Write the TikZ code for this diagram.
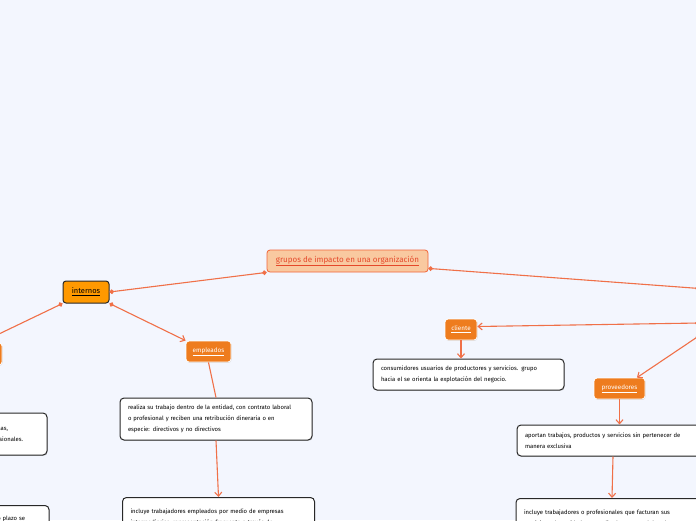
\documentclass[tikz,border=0pt]{standalone}
\usepackage{fontspec}
\setmainfont{Fira Sans}
\usetikzlibrary{arrows.meta,shadows}
\definecolor{bg}{RGB}{243,246,254}
\definecolor{lineor}{RGB}{240,112,72}
\definecolor{rootfill}{RGB}{249,201,160}
\definecolor{rootline}{RGB}{242,100,56}
\definecolor{roottext}{RGB}{229,72,42}
\definecolor{mainfill}{RGB}{255,153,0}
\definecolor{subfill}{RGB}{238,124,30}
\definecolor{darkline}{RGB}{40,40,40}
\tikzset{
  rootbox/.style={draw=rootline, fill=rootfill, rounded corners=3pt, line width=0.8pt,
    minimum width=161pt, minimum height=22pt, inner sep=0pt, text=roottext,
    font=\fontsize{8}{9}\selectfont},
  mainbox/.style={draw=darkline, fill=mainfill, rounded corners=3pt, line width=1pt,
    minimum width=46pt, minimum height=22pt, inner sep=0pt, text=black,
    font=\fontsize{7.5}{9}\selectfont},
  subbox/.style={draw=white, fill=subfill, rounded corners=3pt, line width=0.8pt,
    minimum height=21pt, inner sep=0pt, text=white,
    drop shadow={shadow xshift=0.5pt, shadow yshift=-0.8pt, opacity=0.25},
    font=\fontsize{6.3}{8}\selectfont},
  descbox/.style={draw=darkline, fill=white, rounded corners=4pt, line width=1pt,
    text width=176pt, inner xsep=8pt, align=left,
    drop shadow={shadow xshift=0.6pt, shadow yshift=-0.9pt, opacity=0.3},
    font=\fontsize{5.9}{11}\selectfont},
  conn/.style={draw=lineor, line width=1.1pt},
  dotdot/.style={conn, {Circle[length=4.5pt]}-{Circle[length=4.5pt]}},
  dotarrow/.style={conn, {Circle[length=4.5pt]}-{Straight Barb[length=4pt,width=7pt]}},
  plainarrow/.style={conn, -{Straight Barb[length=4pt,width=7pt]}},
  plainline/.style={conn},
}
\begin{document}
\begin{tikzpicture}[x=1pt,y=-1pt]
\useasboundingbox (0,0) rectangle (696,520);
\fill[bg] (0,0) rectangle (696,520);
\clip (0,0) rectangle (696,520);

% nodes
\node[rootbox] (root) at (347.5,261) {\underline{grupos de impacto en una organización}};
\node[mainbox] (internos) at (86,292) {\underline{internos}};
\node[mainbox, minimum width=90pt, minimum height=46pt] (externos) at (745,312) {};
\node[subbox, minimum width=42pt, minimum height=22pt] (socios) at (-19,354) {};
\node[subbox, minimum width=45pt] (empleados) at (208.5,351.5) {\underline{empleados}};
\node[subbox, minimum width=32pt] (cliente) at (461,329.5) {\underline{cliente}};
\node[subbox, minimum width=51pt] (proveedores) at (619.5,388.5) {\underline{proveedores}};

\node[descbox, minimum height=42pt] (t1) at (216,419)
  {realiza su trabajo dentro de la entidad, con contrato laboral\\
   o profesional y reciben una retribución dineraria o en\\
   especie: directivos y no directivos};
\node[descbox, anchor=north, inner ysep=6pt, minimum height=52pt] (t2) at (218.5,497)
  {incluye trabajadores empleados por medio de empresas\\
   intermediarias, representación frecuente a través de\\ \strut};
\node[descbox, text width=175pt, minimum height=31pt] (t3) at (468.5,374.5)
  {consumidores usuarios de productores y servicios. grupo\\
   hacia el se orienta la explotación del negocio.};
\node[descbox, minimum height=31pt] (t4) at (613,440.5)
  {aportan trabajos, productos y servicios sin pertenecer de\\
   manera exclusiva};
\node[descbox, anchor=north, inner ysep=6pt, minimum height=52pt] (t5) at (612,498)
  {incluye trabajadores o profesionales que facturan sus\\
   servicios a la entidad por medio de contrato laboral\\ \strut};
\node[descbox, align=right, minimum height=42pt] (la) at (-49,434)
  {personas que aportan capital a las empresas,\rule{31pt}{0pt}\\
   asesores y trabajadores profesionales.\rule{16pt}{0pt}};
\node[descbox, align=right, anchor=north, inner ysep=6pt, minimum height=40pt] (lb) at (-47,505)
  {contratados a corto plazo se\rule{16pt}{0pt}\\ \strut};

% connectors
\draw[dotdot] (root.south west) -- (internos.east);
\draw[dotdot] ([yshift=4pt]root.south east) -- (externos.north west);
\draw[dotarrow] (internos.south west) -- (socios.north);
\draw[dotarrow] (internos.south east) -- (empleados.north west);
\draw[plainline] (empleados.south) -- (t1.north);
\draw[plainarrow] (t1.south) -- (t2.north);
\draw[dotarrow] ([yshift=-11pt]externos.west) -- ([yshift=3pt]cliente.east);
\draw[dotarrow] (externos.south west) -- ([xshift=-8.5pt]proveedores.north east);
\draw[plainarrow] (cliente.south) -- (cliente.south |- t3.north);
\draw[plainarrow] (proveedores.south) -- (proveedores.south |- t4.north);
\draw[plainarrow] (t4.south) -- (t5.north);
\end{tikzpicture}
\end{document}
